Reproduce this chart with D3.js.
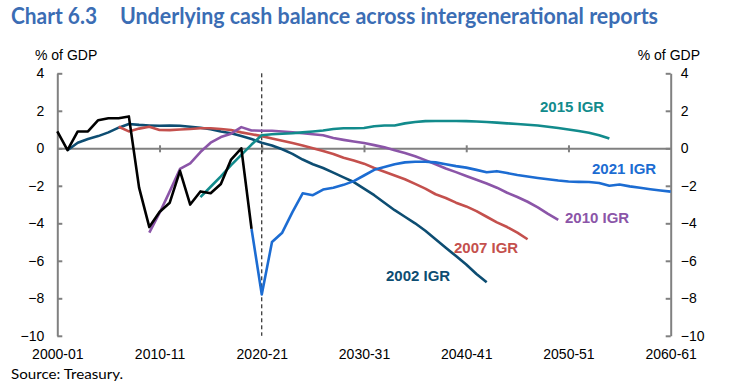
<!DOCTYPE html>
<html>
<head>
<meta charset="utf-8">
<script src="https://cdn.jsdelivr.net/npm/d3@7"></script>
<style>
  body { margin: 0; background: #fff; }
  svg { display: block; }
</style>
</head>
<body>
<svg id="chart"></svg>
<script>
// Underlying cash balance, % of GDP, by starting year of the financial year
const yearLabels = ["2000-01", "2010-11", "2020-21", "2030-31", "2040-41", "2050-51", "2060-61"];
const labelYears = [2000, 2010, 2020, 2030, 2040, 2050, 2060];
const yTicks = [4, 2, 0, -2, -4, -6, -8, -10];

const actualStart = 2000;
const actualValues = [0.9, -0.1, 0.9, 0.9, 1.5, 1.6, 1.6, 1.7, -2.1, -4.2, -3.4, -2.9, -1.2, -3.0, -2.3, -2.4, -1.9, -0.6, 0.0, -4.3];

const igr2002Start = 2001;
const igr2002 = [-0.1, 0.3, 0.5, 0.65, 0.85, 1.1, 1.3, 1.25, 1.22, 1.2, 1.22, 1.2, 1.15, 1.1, 1.02, 0.9, 0.8, 0.65, 0.5, 0.3,
  0.15, -0.05, -0.3, -0.6, -0.85, -1.05, -1.3, -1.55, -1.8, -2.15, -2.5, -2.9, -3.3, -3.65, -4.0, -4.4, -4.85, -5.3, -5.75, -6.2, -6.7, -7.15];

const igr2007Start = 2006;
const igr2007 = [1.15, 0.9, 1.05, 1.15, 0.98, 0.97, 1.0, 1.03, 1.07, 1.07, 1.03, 0.98, 0.85, 0.75, 0.65, 0.52, 0.4, 0.28, 0.15, 0.0,
  -0.15, -0.3, -0.5, -0.65, -0.82, -1.05, -1.25, -1.45, -1.65, -1.9, -2.15, -2.45, -2.65, -2.9, -3.1, -3.35, -3.65, -3.95, -4.2, -4.5, -4.85];

const igr2010Start = 2009;
const igr2010 = [-4.5, -3.45, -2.3, -1.1, -0.8, -0.2, 0.3, 0.6, 0.78, 1.13, 0.95, 0.94, 0.94, 0.9, 0.85, 0.8, 0.75, 0.7, 0.55, 0.45,
  0.36, 0.28, 0.17, 0.05, -0.1, -0.25, -0.42, -0.63, -0.85, -1.08, -1.27, -1.48, -1.68, -1.88, -2.1, -2.37, -2.6, -2.85, -3.15, -3.5, -3.82];

const igr2015Start = 2014;
const igr2015 = [-2.6, -2.05, -1.5, -0.9, -0.35, 0.2, 0.7, 0.75, 0.78, 0.8, 0.85, 0.9, 0.95, 1.03, 1.07, 1.07, 1.08, 1.18, 1.22, 1.22,
  1.33, 1.4, 1.45, 1.46, 1.46, 1.46, 1.45, 1.43, 1.4, 1.37, 1.33, 1.3, 1.26, 1.22, 1.15, 1.08, 1.0, 0.92, 0.83, 0.7, 0.52];

const igr2021Start = 2019;
const igr2021 = [-4.3, -7.8, -5.0, -4.5, -3.4, -2.4, -2.5, -2.2, -2.1, -1.95, -1.75, -1.45, -1.15, -1.0, -0.85, -0.75, -0.72, -0.72, -0.75, -0.85,
  -0.95, -1.03, -1.15, -1.28, -1.22, -1.32, -1.42, -1.5, -1.58, -1.65, -1.72, -1.77, -1.79, -1.8, -1.85, -2.0, -1.93, -2.03, -2.1, -2.18, -2.25, -2.31];

const series = [
  { name: "2002 IGR", start: igr2002Start, values: igr2002, color: "#0d4d72", label: [386, 281] },
  { name: "2007 IGR", start: igr2007Start, values: igr2007, color: "#c4504d", label: [454, 253] },
  { name: "2010 IGR", start: igr2010Start, values: igr2010, color: "#8b55a8", label: [565, 222.5] },
  { name: "2015 IGR", start: igr2015Start, values: igr2015, color: "#128b8c", label: [540, 112.3] },
  { name: "2021 IGR", start: igr2021Start, values: igr2021, color: "#1c6cd2", label: [592, 173.5] },
  { name: "Actual", start: actualStart, values: actualValues, color: "#000000", label: null }
];

const width = 735, height = 385;
const axisColor = "#808080";
const font = "'Liberation Sans', Arial, sans-serif";
const titleFont = "Lato, 'Open Sans', sans-serif";

const svg = d3.select("#chart")
  .attr("width", width)
  .attr("height", height)
  .attr("viewBox", [0, 0, width, height]);

const x = d3.scaleLinear().domain([2000, 2060]).range([57.3, 670.7]);
const y = d3.scaleLinear().domain([-10, 4]).range([335.8, 73.3]);

// title
svg.append("text")
  .attr("x", 11).attr("y", 23.5)
  .attr("fill", "#3b6db4")
  .attr("font-family", titleFont)
  .attr("font-weight", "bold")
  .attr("font-size", "22px")
  .attr("textLength", 86)
  .attr("lengthAdjust", "spacingAndGlyphs")
  .text("Chart 6.3");
svg.append("text")
  .attr("x", 120).attr("y", 23.5)
  .attr("fill", "#3b6db4")
  .attr("font-family", titleFont)
  .attr("font-weight", "bold")
  .attr("font-size", "22px")
  .attr("textLength", 538)
  .attr("lengthAdjust", "spacingAndGlyphs")
  .text("Underlying cash balance across intergenerational reports");

// unit labels
svg.append("text")
  .attr("x", 35).attr("y", 60)
  .attr("font-family", font).attr("font-size", "14px")
  .text("% of GDP");
svg.append("text")
  .attr("x", 700).attr("y", 60)
  .attr("text-anchor", "end")
  .attr("font-family", font).attr("font-size", "14px")
  .text("% of GDP");

// left and right axes
const left = svg.append("g")
  .attr("transform", `translate(${x(2000)},0)`)
  .call(d3.axisLeft(y).tickValues(yTicks).tickFormat(d3.format("d")).tickSizeInner(-5).tickSizeOuter(0).tickPadding(13));
const right = svg.append("g")
  .attr("transform", `translate(${x(2060)},0)`)
  .call(d3.axisRight(y).tickValues(yTicks).tickFormat(d3.format("d")).tickSizeInner(-5).tickSizeOuter(0).tickPadding(10));

[left, right].forEach(g => {
  g.select(".domain").attr("stroke", axisColor).attr("stroke-width", 2);
  g.selectAll(".tick line").attr("stroke", axisColor).attr("stroke-width", 2);
  g.selectAll(".tick text")
    .attr("fill", "#000")
    .attr("font-family", font)
    .attr("font-size", "14px");
});

// zero line with decade ticks
const zero = svg.append("g")
  .attr("transform", `translate(0,${y(0)})`)
  .call(d3.axisBottom(x).tickValues(labelYears.slice(1, -1)).tickSizeOuter(0).tickFormat(""));
zero.select(".domain").attr("stroke", axisColor).attr("stroke-width", 2);
zero.selectAll(".tick line")
  .attr("y1", -3).attr("y2", 4)
  .attr("stroke", axisColor).attr("stroke-width", 2);

// year labels along the bottom
const bottom = svg.append("g")
  .attr("transform", `translate(0,${y(-10)})`)
  .call(d3.axisBottom(x).tickValues(labelYears).tickFormat((d, i) => yearLabels[i]).tickSize(0).tickPadding(13));
bottom.select(".domain").remove();
bottom.selectAll(".tick text")
  .attr("fill", "#000")
  .attr("font-family", font)
  .attr("font-size", "14px");

// dashed separator at 2020-21
svg.append("line")
  .attr("x1", x(2020)).attr("x2", x(2020))
  .attr("y1", y(4)).attr("y2", y(-10))
  .attr("stroke", "#000")
  .attr("stroke-width", 1)
  .attr("stroke-dasharray", "4,3");

// series lines
const line = d3.line()
  .x(d => x(d.year))
  .y(d => y(d.value));

series.forEach(s => {
  const pts = s.values.map((v, i) => ({ year: s.start + i, value: v }));
  svg.append("path")
    .datum(pts)
    .attr("fill", "none")
    .attr("stroke", s.color)
    .attr("stroke-width", 2.6)
    .attr("stroke-linejoin", "round")
    .attr("d", line);
  if (s.label) {
    svg.append("text")
      .attr("x", s.label[0]).attr("y", s.label[1])
      .attr("fill", s.color)
      .attr("font-family", font)
      .attr("font-weight", "bold")
      .attr("font-size", "15px")
      .text(s.name);
  }
});

// source note
svg.append("text")
  .attr("x", 11).attr("y", 379)
  .attr("font-family", titleFont)
  .attr("font-size", "14px")
  .attr("textLength", 112)
  .attr("lengthAdjust", "spacingAndGlyphs")
  .text("Source: Treasury.");
</script>
</body>
</html>
